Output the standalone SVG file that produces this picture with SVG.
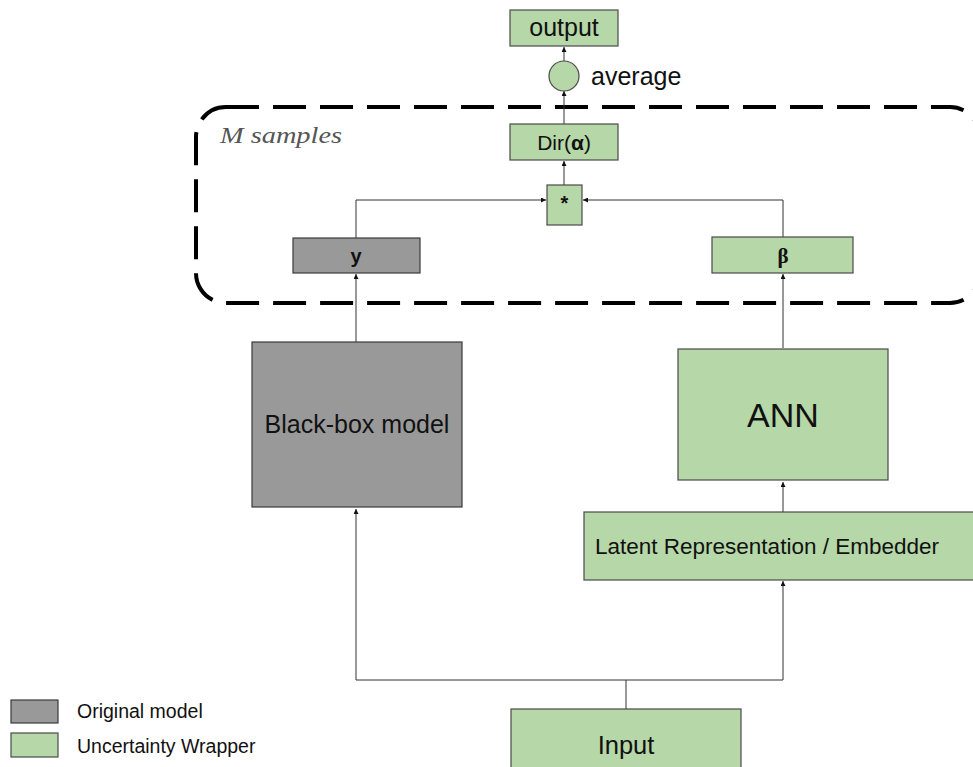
<svg xmlns="http://www.w3.org/2000/svg" width="973" height="767" viewBox="0 0 973 767">
<defs>
<style>
.g{fill:#b6d7a8;stroke:#4a4a4a;stroke-width:1.2}
.k{fill:#999999;stroke:#3a3a3a;stroke-width:1.2}
.t{font-family:"Liberation Sans",Arial,sans-serif;fill:#111;text-anchor:middle}
.s{font-family:"Liberation Sans",Arial,sans-serif;fill:#111}
.c{fill:none;stroke:#333;stroke-width:1}
</style>
<marker id="ah" viewBox="0 0 10 10" refX="10" refY="5" markerWidth="5" markerHeight="5" orient="auto-start-reverse">
<path d="M0,0 L10,5 L0,10 z" fill="#111"/>
</marker>
</defs>
<rect width="973" height="767" fill="#fff"/>

<g id="sample-group">
<rect x="196" y="107" width="784" height="196" rx="30" ry="30" fill="none" stroke="#000" stroke-width="4" stroke-dasharray="33 14"/>
<text x="220" y="143" font-family="'Liberation Serif','DejaVu Serif',serif" font-style="italic" font-size="24" fill="#555" textLength="122" lengthAdjust="spacingAndGlyphs">M samples</text>
</g>

<g id="connectors">
<path class="c" d="M626,709 V680 M356,680 H783" />
<path class="c" d="M356,680 V509" marker-end="url(#ah)"/>
<path class="c" d="M783,680 V581" marker-end="url(#ah)"/>
<path class="c" d="M783,512 V482" marker-end="url(#ah)"/>
<path class="c" d="M783,348 V274" marker-end="url(#ah)"/>
<path class="c" d="M356,342 V274" marker-end="url(#ah)"/>
<path class="c" d="M783,237 V200 H583" marker-end="url(#ah)"/>
<path class="c" d="M356,238 V200 H546" marker-end="url(#ah)"/>
<path class="c" d="M564,185 V161" marker-end="url(#ah)"/>
<path class="c" d="M564,124 V91" marker-end="url(#ah)"/>
<path class="c" d="M564,61 V47" marker-end="url(#ah)"/>
</g>

<g id="output">
<rect class="g" x="510" y="10" width="108" height="36"/>
<text class="t" x="564" y="36" font-size="25">output</text>
</g>

<g id="average">
<circle class="g" cx="564" cy="76" r="15"/>
<text class="s" x="591" y="85" font-size="25">average</text>
</g>

<g id="dir">
<rect class="g" x="510" y="124" width="108" height="36"/>
<text class="t" x="564" y="150" font-size="21">Dir(<tspan font-weight="bold">α</tspan>)</text>
</g>

<g id="mult">
<rect class="g" x="547" y="185" width="35" height="40"/>
<text class="t" x="564.5" y="210" font-size="20" font-weight="bold">*</text>
</g>

<g id="y">
<rect class="k" x="293" y="238" width="127" height="35"/>
<text class="t" x="356" y="263" font-size="20" font-weight="bold">y</text>
</g>

<g id="beta">
<rect class="g" x="712" y="237" width="141" height="36"/>
<text x="783" y="263" font-family="'Liberation Serif','Times New Roman',serif" font-size="21" font-weight="bold" fill="#111" text-anchor="middle">β</text>
</g>

<g id="blackbox">
<rect class="k" x="252" y="342" width="210" height="165"/>
<text class="t" x="357" y="433" font-size="25">Black-box model</text>
</g>

<g id="ann">
<rect class="g" x="678" y="349" width="210" height="131"/>
<text class="t" x="783" y="427" font-size="34">ANN</text>
</g>

<g id="latent">
<rect class="g" x="584" y="512" width="395" height="68"/>
<text class="s" x="595" y="554" font-size="22.5">Latent Representation / Embedder</text>
</g>

<g id="input">
<rect class="g" x="511" y="709" width="230" height="64"/>
<text class="t" x="626" y="754" font-size="25.5">Input</text>
</g>

<g id="legend">
<rect class="k" x="11" y="700" width="47" height="23"/>
<text class="s" x="77" y="718" font-size="19.5">Original model</text>
<rect class="g" x="11" y="733" width="47" height="24"/>
<text class="s" x="77" y="753" font-size="19.5">Uncertainty Wrapper</text>
</g>
</svg>
